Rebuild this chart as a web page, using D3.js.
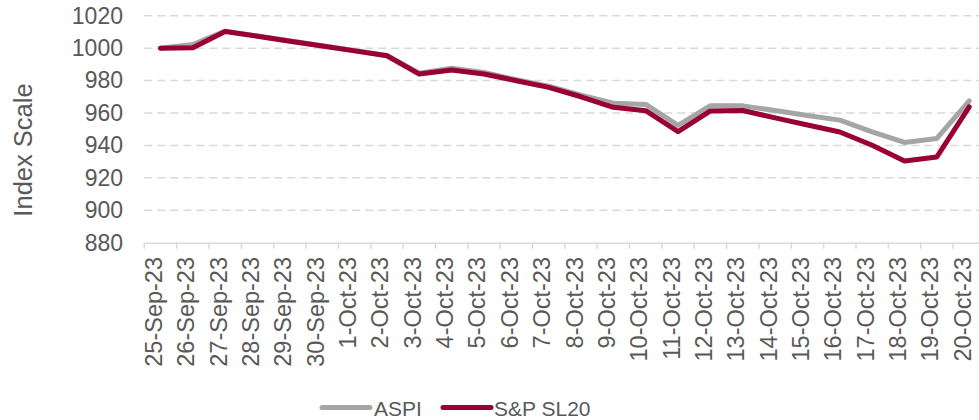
<!DOCTYPE html>
<html>
<head>
<meta charset="utf-8">
<script src="https://cdn.jsdelivr.net/npm/d3@7"></script>
<style>
  html, body { margin: 0; padding: 0; background: #fff; }
  svg { display: block; font-family: "Liberation Sans", Arial, sans-serif; }
</style>
</head>
<body>
<svg id="chart" width="979" height="420"></svg>
<script>
const categories = ["25-Sep-23","26-Sep-23","27-Sep-23","28-Sep-23","29-Sep-23","30-Sep-23",
  "1-Oct-23","2-Oct-23","3-Oct-23","4-Oct-23","5-Oct-23","6-Oct-23","7-Oct-23","8-Oct-23",
  "9-Oct-23","10-Oct-23","11-Oct-23","12-Oct-23","13-Oct-23","14-Oct-23","15-Oct-23",
  "16-Oct-23","17-Oct-23","18-Oct-23","19-Oct-23","20-Oct-23"];
const aspi = [1000, 1002.2, 1010.5, 1007.5, 1004.5, 1001.5, 998.5, 995.5, 984.5, 987.6, 985,
  980.5, 976.5, 971, 966, 965.3, 952.4, 964.5, 964.4, 961.5, 958.5, 955.6, 948.3, 941.8, 944.3, 967.5];
const spsl20 = [1000, 1000.3, 1010.3, 1007.3, 1004.3, 1001.3, 998.3, 995.3, 984, 986.5, 984,
  979.9, 975.8, 970, 963.5, 961.4, 948.5, 961.3, 961.5, 957, 952.6, 948.3, 940.1, 930.4, 932.9, 963.8];
const yTicks = [880, 900, 920, 940, 960, 980, 1000, 1020];
const seriesNames = ["ASPI", "S&P SL20"];

const series = [
  { name: seriesNames[0], values: aspi, color: "#A5A5A5" },
  { name: seriesNames[1], values: spsl20, color: "#990033" }
];

const svg = d3.select("#chart");
const plotLeft = 144.3, step = 32.35, plotTop = 15.7, plotBottom = 242.7;

const x = d3.scaleBand().domain(categories).range([plotLeft, plotLeft + step * categories.length]).padding(0);
const y = d3.scaleLinear().domain([880, 1020]).range([plotBottom, plotTop]);

// gridlines
svg.append("g").selectAll("line").data(yTicks.filter(d => d > 880)).join("line")
  .attr("x1", plotLeft).attr("x2", 979)
  .attr("y1", d => y(d)).attr("y2", d => y(d))
  .attr("stroke", "#D9D9D9").attr("stroke-width", 1.5)
  .attr("stroke-dasharray", "8,5");

// y axis labels
const yAxis = d3.axisLeft(y).tickValues(yTicks).tickFormat(d3.format("d")).tickSize(0).tickPadding(0);
const yg = svg.append("g").attr("transform", `translate(123,0)`).call(yAxis);
yg.select(".domain").remove();
yg.selectAll("text").attr("fill", "#595959").style("font-size", "23px")
  .style("font-family", "'Liberation Sans', Arial, sans-serif");

// x axis
const xAxis = d3.axisBottom(x).tickSize(0).tickFormat("");
const xg = svg.append("g").attr("transform", `translate(0,${plotBottom})`).call(xAxis);
xg.select(".domain").attr("stroke", "#D9D9D9").attr("stroke-width", 1.5);
xg.selectAll(".tick").remove();
const bounds = d3.range(categories.length + 1).map(i => (i < categories.length ? x(categories[i]) : x(categories[i-1]) + x.bandwidth()));
xg.selectAll("line.bt").data(bounds).join("line").attr("class", "bt")
  .attr("x1", d => d).attr("x2", d => d).attr("y1", 0).attr("y2", 6)
  .attr("stroke", "#D9D9D9").attr("stroke-width", 1.5);

// x labels
svg.append("g").selectAll("text").data(categories).join("text")
  .attr("transform", d => `translate(${x(d) + x.bandwidth() / 2 + 1.5},257) rotate(-90)`)
  .attr("text-anchor", "end")
  .attr("fill", "#595959").style("font-size", "23.5px")
  .text(d => d);

// y title
svg.append("text")
  .attr("transform", "translate(32,150) rotate(-90)")
  .attr("text-anchor", "middle")
  .attr("fill", "#595959").style("font-size", "25.5px")
  .text("Index Scale");

// lines
const line = d3.line().x((d, i) => x(categories[i]) + x.bandwidth() / 2).y(d => y(d));
svg.append("g").selectAll("path").data(series).join("path")
  .attr("d", d => line(d.values))
  .attr("fill", "none").attr("stroke", d => d.color)
  .attr("stroke-width", 5).attr("stroke-linejoin", "round").attr("stroke-linecap", "round");

// legend
const legendPos = [{ sx: 322, tx: 374 }, { sx: 443, tx: 494 }];
const lg = svg.append("g");
series.forEach((s, i) => {
  lg.append("line").attr("x1", legendPos[i].sx).attr("x2", legendPos[i].sx + 48)
    .attr("y1", 407.5).attr("y2", 407.5).attr("stroke", s.color).attr("stroke-width", 5)
    .attr("stroke-linecap", "round");
  lg.append("text").attr("x", legendPos[i].tx).attr("y", 415.5)
    .attr("fill", "#595959").style("font-size", "21px").text(s.name);
});
</script>
</body>
</html>
